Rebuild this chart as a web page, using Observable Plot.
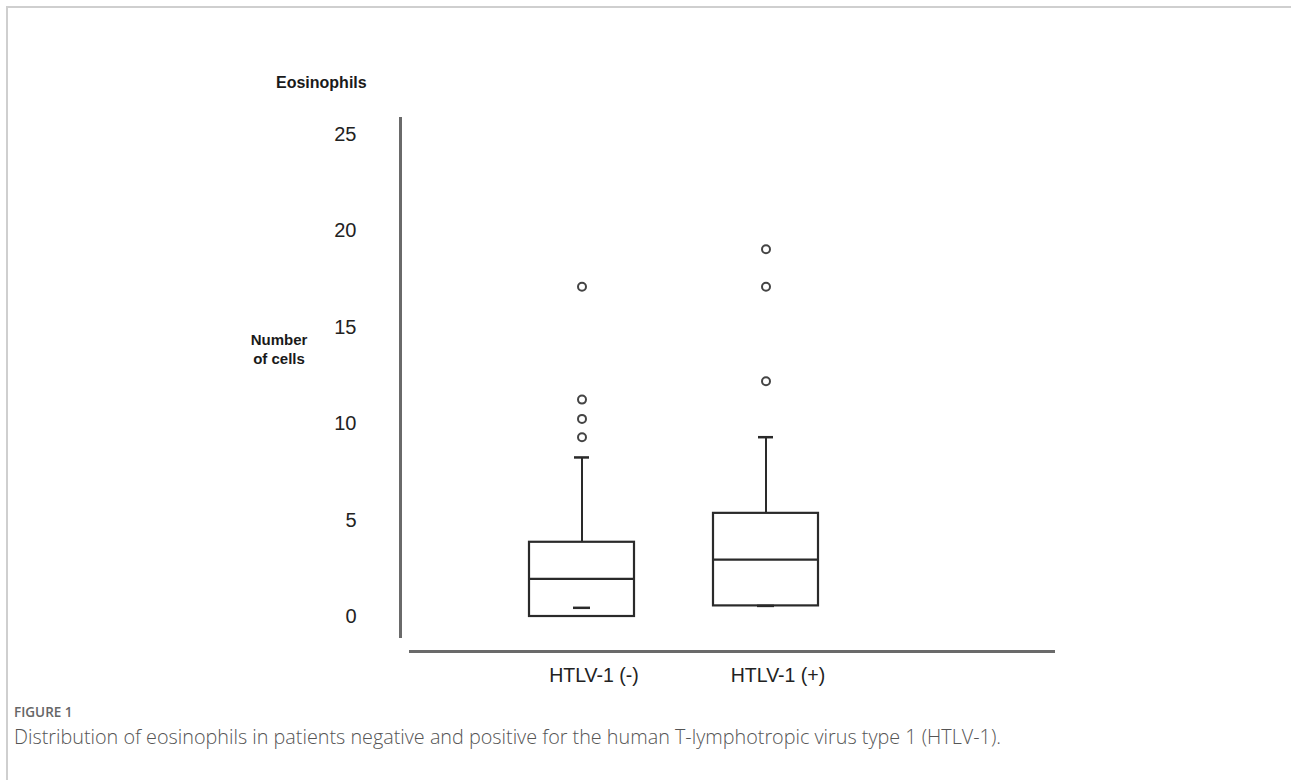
<!DOCTYPE html>
<html>
<head>
<meta charset="utf-8">
<script src="https://cdn.jsdelivr.net/npm/d3@7"></script>
<script src="https://cdn.jsdelivr.net/npm/@observablehq/plot@0.6"></script>
<style>
  html, body { margin: 0; padding: 0; background: #fff; }
  #page { position: relative; width: 1291px; height: 780px; overflow: hidden; font-family: "Liberation Sans", Arial, sans-serif; }
  #border { position: absolute; left: 6px; top: 6px; right: -10px; bottom: -10px; border-top: 2px solid #cfcfcf; border-left: 2px solid #cfcfcf; }
  #title { position: absolute; left: 276px; top: 74px; font-size: 16px; font-weight: bold; color: #1a1a1a; }
  #ylabel { position: absolute; left: 239px; top: 330px; width: 80px; text-align: center; font-size: 15px; font-weight: bold; color: #1a1a1a; line-height: 19px; }
  #chart { position: absolute; left: 0; top: 100px; }
  #fig { position: absolute; left: 14px; top: 703px; font-family: "Open Sans", sans-serif; font-size: 13.5px; font-weight: 600; color: #666; }
  #cap { position: absolute; left: 14px; top: 723px; font-family: "Open Sans", sans-serif; font-size: 19.8px; font-weight: 300; color: #555; }
</style>
</head>
<body>
<div id="page">
  <div id="border"></div>
  <div id="title">Eosinophils</div>
  <div id="ylabel">Number<br>of cells</div>
  <div id="chart"></div>
  <div id="fig">FIGURE 1</div>
  <div id="cap">Distribution of eosinophils in patients negative and positive for the human T-lymphotropic virus type 1 (HTLV-1).</div>
</div>
<script>
// Data
const groups = ["HTLV-1 (-)", "HTLV-1 (+)"];
const q1 = [0, 0.55];
const medians = [1.95, 2.95];
const q3 = [3.85, 5.35];
const whiskerHigh = [8.25, 9.3];
const whiskerLow = [0.45, 0.55];
const outliersNeg = [9.3, 10.25, 11.25, 17.1];
const outliersPos = [12.2, 17.1, 19.05];
const yTicks = [0, 5, 10, 15, 20, 25];

const boxes = groups.map((g, i) => ({
  group: g, q1: q1[i], median: medians[i], q3: q3[i], hi: whiskerHigh[i], lo: whiskerLow[i]
}));
const outliers = [
  ...outliersNeg.map(v => ({group: groups[0], value: v})),
  ...outliersPos.map(v => ({group: groups[1], value: v}))
];

const ink = "#2a2a2a";
const axisInk = "#6a6a6a";

const chart = Plot.plot({
  width: 1291,
  height: 600,
  marginLeft: 410,
  marginRight: 238,
  marginTop: 18,
  marginBottom: 49,
  style: {fontFamily: "'Liberation Sans', Arial, sans-serif", background: "transparent"},
  x: {domain: groups, range: [400, 946], paddingInner: 0.43, paddingOuter: 0.698, label: null},
  y: {domain: [0, 25], range: [516, 34], label: null},
  marks: [
    // axis lines
    Plot.frame({anchor: "left", insetLeft: -10, insetBottom: 15, stroke: axisInk, strokeWidth: 3}),
    Plot.frame({anchor: "bottom", stroke: axisInk, strokeWidth: 3}),
    Plot.axisY(yTicks, {tickSize: 0, tickPadding: 54, fontSize: 20, fill: "#222"}),
    Plot.axisX({tickSize: 0, tickPadding: 17, dx: 12, fontSize: 19.5, fill: "#222"}),
    // whiskers
    Plot.ruleX(boxes, {x: "group", y1: "q3", y2: "hi", stroke: ink, strokeWidth: 2}),
    // boxes
    Plot.barY(boxes, {x: "group", y1: "q1", y2: "q3", fill: "white", stroke: ink, strokeWidth: 2.2}),
    // medians
    Plot.tickY(boxes, {x: "group", y: "median", stroke: ink, strokeWidth: 2.2}),
    // whisker caps
    Plot.tickY(boxes, {x: "group", y: "hi", stroke: ink, strokeWidth: 2.5, insetLeft: 45, insetRight: 45}),
    Plot.tickY(boxes, {x: "group", y: "lo", stroke: ink, strokeWidth: 2.5, insetLeft: 44, insetRight: 44}),
    // outliers
    Plot.dot(outliers, {x: "group", y: "value", r: 4, stroke: "#444", strokeWidth: 2, fill: "white"})
  ]
});
document.getElementById("chart").appendChild(chart);
</script>
</body>
</html>
